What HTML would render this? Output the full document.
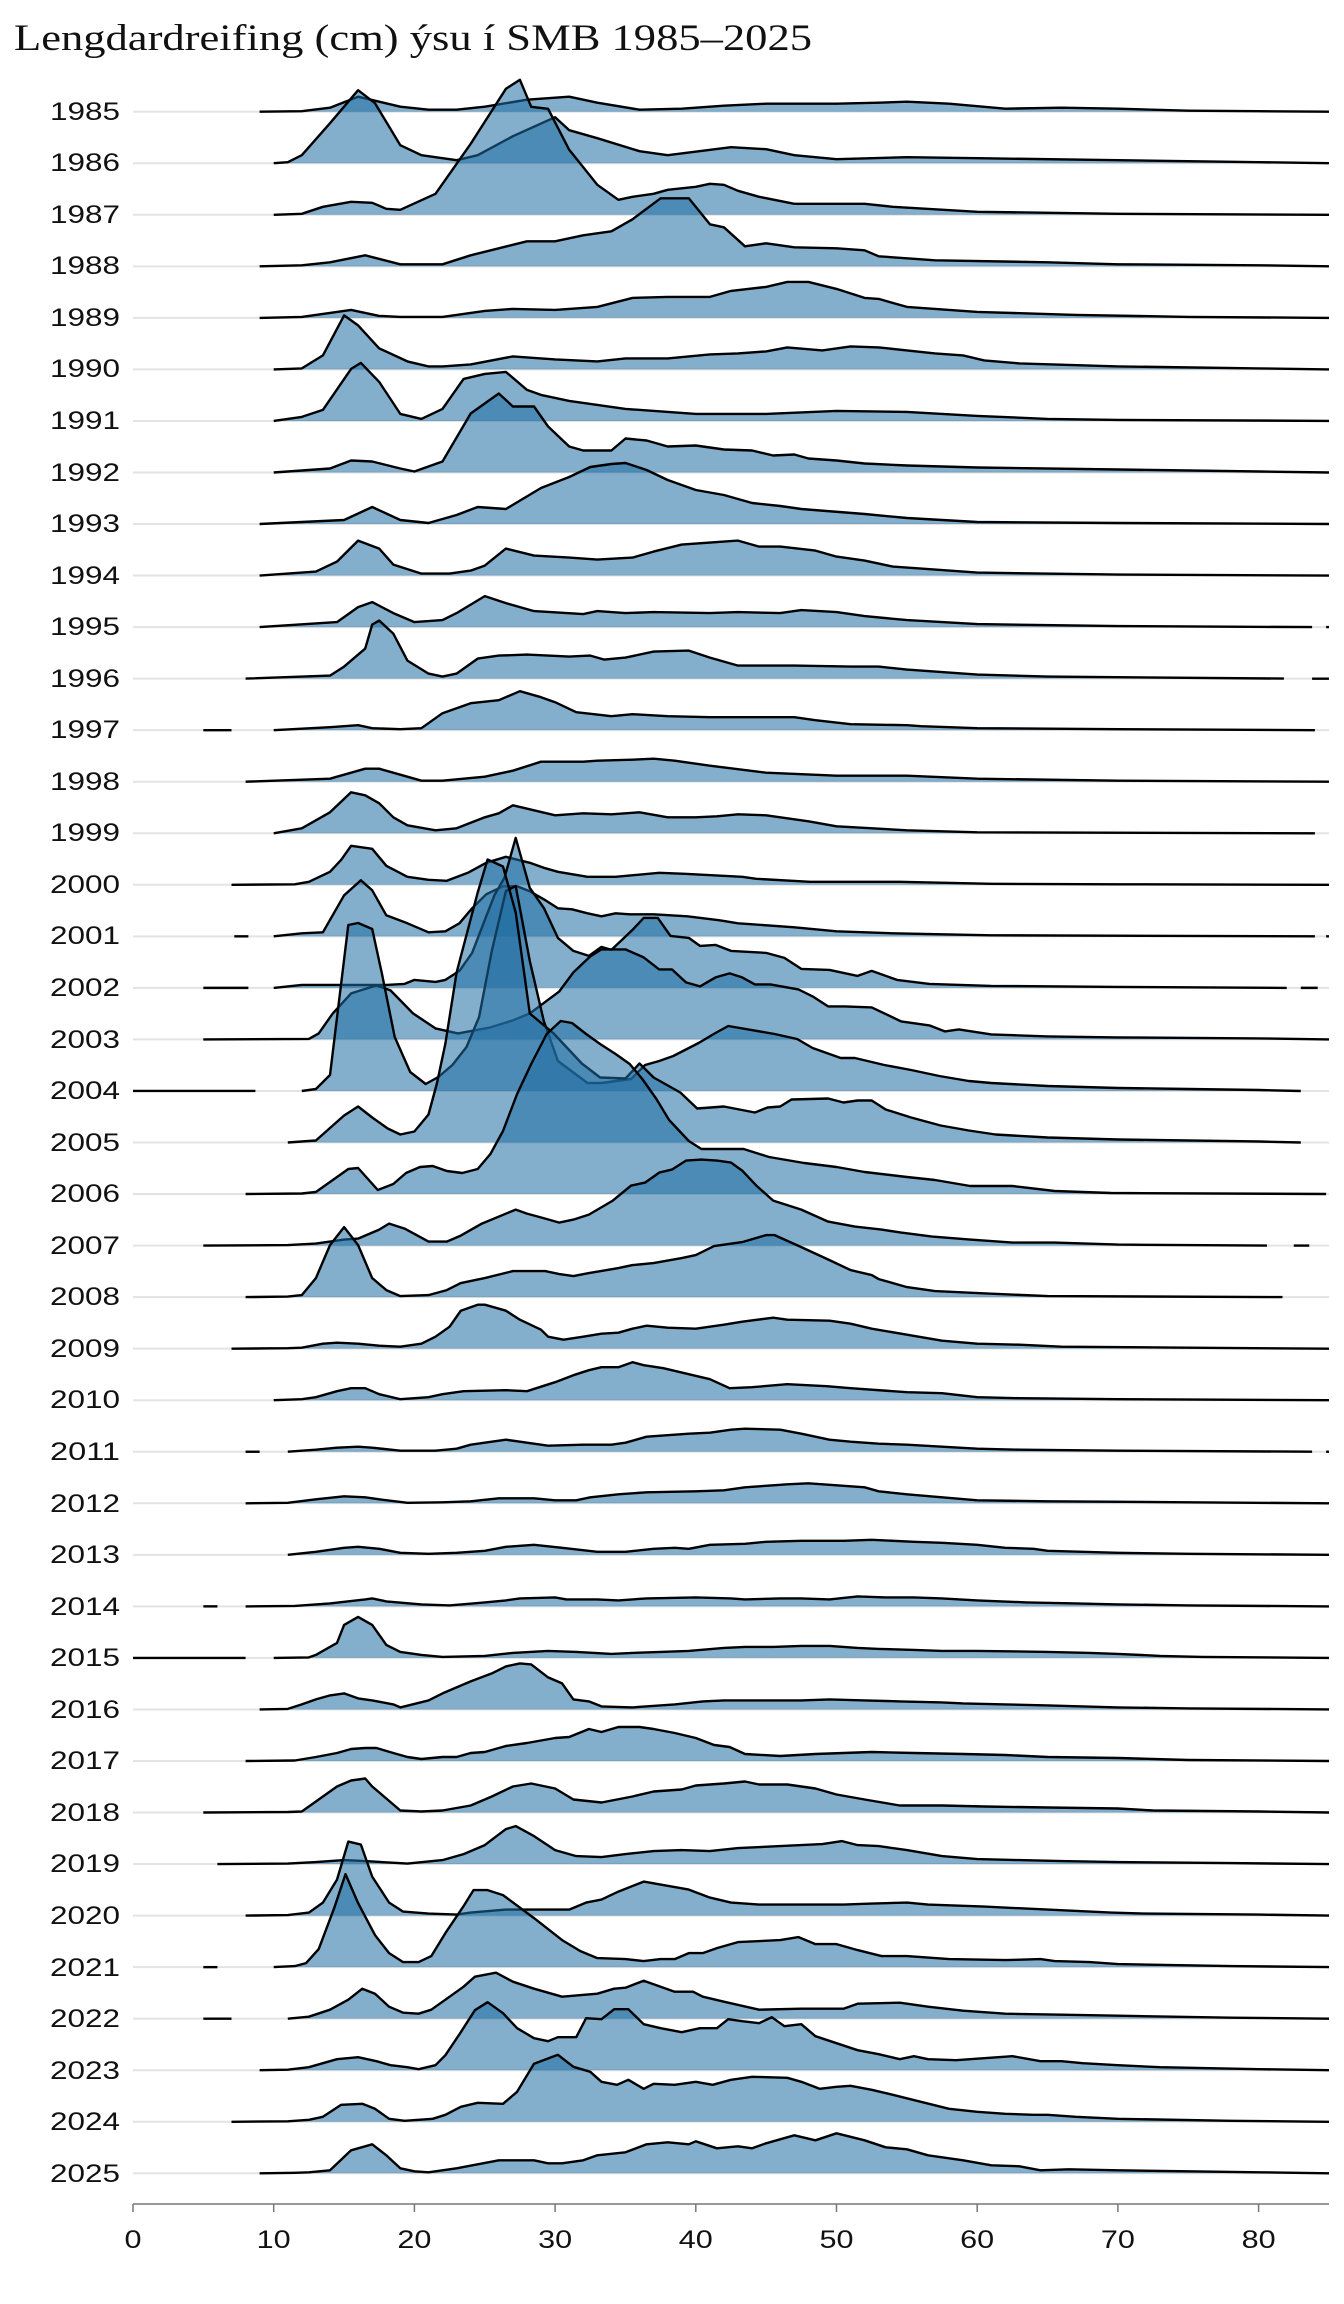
<!DOCTYPE html>
<html><head><meta charset="utf-8"><style>
html,body{margin:0;padding:0;background:#fff;}
svg{display:block;}
.sans{font-family:"Liberation Sans",Arial,sans-serif;}
.serif{font-family:"Liberation Serif",serif;}
</style></head><body>
<svg id="c" width="1344" height="2304" viewBox="0 0 1344 2304" xmlns="http://www.w3.org/2000/svg">
<rect width="1344" height="2304" fill="#fff"/>
<text class="serif" x="14" y="50" style="font-family:'Liberation Serif',serif;font-size:37px" textLength="798" lengthAdjust="spacingAndGlyphs" fill="#111">Lengdardreifing (cm) ýsu í SMB 1985–2025</text>
<g id="grid"></g>
<g id="labels" class="sans" style="font-family:'Liberation Sans',Arial,sans-serif;font-size:25px" fill="#111" text-anchor="end">
<text x="120" y="120" textLength="70" lengthAdjust="spacingAndGlyphs">1985</text>
<text x="120" y="171" textLength="70" lengthAdjust="spacingAndGlyphs">1986</text>
<text x="120" y="223" textLength="70" lengthAdjust="spacingAndGlyphs">1987</text>
<text x="120" y="274" textLength="70" lengthAdjust="spacingAndGlyphs">1988</text>
<text x="120" y="326" textLength="70" lengthAdjust="spacingAndGlyphs">1989</text>
<text x="120" y="377" textLength="70" lengthAdjust="spacingAndGlyphs">1990</text>
<text x="120" y="429" textLength="70" lengthAdjust="spacingAndGlyphs">1991</text>
<text x="120" y="481" textLength="70" lengthAdjust="spacingAndGlyphs">1992</text>
<text x="120" y="532" textLength="70" lengthAdjust="spacingAndGlyphs">1993</text>
<text x="120" y="584" textLength="70" lengthAdjust="spacingAndGlyphs">1994</text>
<text x="120" y="635" textLength="70" lengthAdjust="spacingAndGlyphs">1995</text>
<text x="120" y="687" textLength="70" lengthAdjust="spacingAndGlyphs">1996</text>
<text x="120" y="738" textLength="70" lengthAdjust="spacingAndGlyphs">1997</text>
<text x="120" y="790" textLength="70" lengthAdjust="spacingAndGlyphs">1998</text>
<text x="120" y="841" textLength="70" lengthAdjust="spacingAndGlyphs">1999</text>
<text x="120" y="893" textLength="70" lengthAdjust="spacingAndGlyphs">2000</text>
<text x="120" y="944" textLength="70" lengthAdjust="spacingAndGlyphs">2001</text>
<text x="120" y="996" textLength="70" lengthAdjust="spacingAndGlyphs">2002</text>
<text x="120" y="1048" textLength="70" lengthAdjust="spacingAndGlyphs">2003</text>
<text x="120" y="1099" textLength="70" lengthAdjust="spacingAndGlyphs">2004</text>
<text x="120" y="1151" textLength="70" lengthAdjust="spacingAndGlyphs">2005</text>
<text x="120" y="1202" textLength="70" lengthAdjust="spacingAndGlyphs">2006</text>
<text x="120" y="1254" textLength="70" lengthAdjust="spacingAndGlyphs">2007</text>
<text x="120" y="1305" textLength="70" lengthAdjust="spacingAndGlyphs">2008</text>
<text x="120" y="1357" textLength="70" lengthAdjust="spacingAndGlyphs">2009</text>
<text x="120" y="1408" textLength="70" lengthAdjust="spacingAndGlyphs">2010</text>
<text x="120" y="1460" textLength="70" lengthAdjust="spacingAndGlyphs">2011</text>
<text x="120" y="1512" textLength="70" lengthAdjust="spacingAndGlyphs">2012</text>
<text x="120" y="1563" textLength="70" lengthAdjust="spacingAndGlyphs">2013</text>
<text x="120" y="1615" textLength="70" lengthAdjust="spacingAndGlyphs">2014</text>
<text x="120" y="1666" textLength="70" lengthAdjust="spacingAndGlyphs">2015</text>
<text x="120" y="1718" textLength="70" lengthAdjust="spacingAndGlyphs">2016</text>
<text x="120" y="1769" textLength="70" lengthAdjust="spacingAndGlyphs">2017</text>
<text x="120" y="1821" textLength="70" lengthAdjust="spacingAndGlyphs">2018</text>
<text x="120" y="1872" textLength="70" lengthAdjust="spacingAndGlyphs">2019</text>
<text x="120" y="1924" textLength="70" lengthAdjust="spacingAndGlyphs">2020</text>
<text x="120" y="1976" textLength="70" lengthAdjust="spacingAndGlyphs">2021</text>
<text x="120" y="2027" textLength="70" lengthAdjust="spacingAndGlyphs">2022</text>
<text x="120" y="2079" textLength="70" lengthAdjust="spacingAndGlyphs">2023</text>
<text x="120" y="2130" textLength="70" lengthAdjust="spacingAndGlyphs">2024</text>
<text x="120" y="2182" textLength="70" lengthAdjust="spacingAndGlyphs">2025</text>
</g>
<g id="ridges"></g>
<g id="axis">
<line x1="133" y1="2204" x2="1329" y2="2204" stroke="#777" stroke-width="1.5"/>
</g>
<g class="sans" style="font-family:'Liberation Sans',Arial,sans-serif;font-size:25px" fill="#111" text-anchor="middle">
<text x="133" y="2248" textLength="17" lengthAdjust="spacingAndGlyphs">0</text>
<text x="273.7" y="2248" textLength="34" lengthAdjust="spacingAndGlyphs">10</text>
<text x="414.4" y="2248" textLength="34" lengthAdjust="spacingAndGlyphs">20</text>
<text x="555.1" y="2248" textLength="34" lengthAdjust="spacingAndGlyphs">30</text>
<text x="695.8" y="2248" textLength="34" lengthAdjust="spacingAndGlyphs">40</text>
<text x="836.5" y="2248" textLength="34" lengthAdjust="spacingAndGlyphs">50</text>
<text x="977.2" y="2248" textLength="34" lengthAdjust="spacingAndGlyphs">60</text>
<text x="1117.9" y="2248" textLength="34" lengthAdjust="spacingAndGlyphs">70</text>
<text x="1258.6" y="2248" textLength="34" lengthAdjust="spacingAndGlyphs">80</text>
</g>
</svg>
<script>
(function(){
var NS="http://www.w3.org/2000/svg";
function X(cm){return 133+14.07*cm;}
function B(i){return 111.7+51.54*i;}
var D=[
[9,85,"12,0.5 14,4 16,15 19,5 21,2 23,2 25,5 28,12 31,15 33,9 36,2 39,3 42,6 45,8 50,8 53,9 55,10 58,8 62,3 66,4 70,3 75,1 80,0.5",[]],
[10,85,"11,1 12,8 14,40 16,73 17.2,60 19,18 20.5,8 23,3 24.5,8 27,27 30,46 31,33 33,25 36,12 38,8 42.5,16 45,14 47,8 50,4 55,6 60,5 70,3 80,1",[]],
[10,85,"12,1 13.5,8 15.5,13 17,12 18,6 19,5 21.5,21 24,71 26.5,126 27.5,135 28.3,108 29.5,106 31,65 33,30 34.5,15 35.5,18 37,21 38,25 40,28 41,31 42,30 43,24 44.5,18 47,11 52,11 54,8 60,3 70,1",[]],
[9,85,"12,1 14,4 16.5,11 19,2 22,2 24,11 26,18 28,25 30,25 32,31 34,35 35.5,47 37.5,68 39.5,68 41,42 42,39 43.5,20 45,23 47,19 50,18 52,16 53,10 57,6 65,4 70,2 80,1",[]],
[9,85,"12,1 15.5,8 17.5,2 19,1 22,1 25,7 27,9 30,8 33,11 35.5,20 38,21 41,21 42.5,27 45,31 46.5,36 48,36 50,29 52,20 53,19 55,11 60,6 67,3 75,1",[]],
[10,85,"12,1 13.5,14 15,54 16,44 17.5,21 19.5,8 21,3 22,3 24,5 27,13 30,10 33,8 35,11 38,11 41,15 43,16 45,18 46.5,22 49,19 51,23 53,22 55,19 57,16 59,14 60.5,9 63,6 70,3 80,1",[]],
[10,85,"12,4 13.5,11 15.5,52 16.2,58 17.5,39 19,7 20.5,2 22,12 23.5,42 25,47 26.5,49 28,31 29,26 31,20 35,12 40,7 45,7 50,10 55,9 60,5 65,2 70,1",[]],
[10,85,"14,4 15.5,12 17,11 19,4 20,1 22,11 24,59 26,79 27,66 28.5,66 29.5,46 31,26 32,22 34,22 35,34 36.5,32 38,26 40,27 42,23 44,22 45.5,17 47,18 48,14 50,12 52,9 55,7 60,5 70,3 80,1",[]],
[9,85,"15,4 17,17 19,4 21,1 23,9 24.5,17 26.5,15 29,36 31,47 32.5,57 34,60 35,61 36.5,54 38,44 40,34 42,29 44,21 46,18 47.5,15 52,10 55,6 60,2 70,1",[]],
[9,85,"13,4 14.5,14 16,35 17.5,27 18.5,11 20.5,2 22.5,2 24,5 25,10 26.5,27 28.5,20 31,18 33,16 35.5,18 37,24 39,31 41,33 43,35 44.5,29 46,29 48.5,25 50,19 52,15 54,9 57,6 60,3 70,1",[]],
[9,83.8,"14.5,5 16,20 17,25 18.5,14 20,5 22,7 23,14 25,31 26.5,24 28.5,16 32,13 33,16 35,14 37,15 41,14 43,15 46,14 47.5,17 50,15 52,11 55,7 60,3 70,1",[[84.8,85]]],
[8,81.8,"14,3 15,12 16.5,30 17,54 17.5,58 18.5,45 19.5,18 21,5 22,2 23,5 24.5,20 26,23 28,24 31,22 32.5,23 33.5,19 35,21 37,27 39.5,28 41,21 43,13 47,13 51,12 53,12 55,9 57,7 60,4 65,2",[[83.8,85]]],
[10,84,"14,3 16,5 17,2 19,1 20.5,2 22,17 24,27 26,30 27.5,39 29,33 30,28 31.5,18 34,14 35.5,16 38,14 41,13 44,13 47,13 48.5,10 51,6 55,5 56,4 60,2 70,1",[[5,7]]],
[8,85,"14,3 16.5,13 17.5,13 19,7 20.5,1 22,1 25,5 27,11 29,20 32,20 33,21 35.5,22 37,23 38.5,21 41,16 45,9 50,6 55,6 60,3 70,1",[]],
[10,84,"12,5 14,21 15.5,41 16.5,38 17.5,30 18.5,16 19.5,8 21.5,3 23,5 25,16 26,20 27,28 28.5,23 30,18 32,20 34,19 36,21 38,16 40,16 41.5,17 43,19 45,18 48,12 50,7 55,3 60,1",[]],
[7,85,"11.5,0.5 12.5,3 14,13 14.8,25 15.5,39 17,36 18,19 19.5,8 21,5 22.3,4 23.8,12 25.1,22 26.5,28 28.2,22 29.2,17 30.2,13 32.3,8 34.3,8 37.4,12 39.2,11 43.3,8 44.3,6 48.1,3 54.5,3 61,1 70,0.5",[]],
[10,84,"12,3 13.5,4 15,41 16.2,56 17,46 18,21 19.5,13 21,4 22.2,5 23.2,13 24.1,28 25.1,42 26.3,50 27.3,50 28.2,45 29.2,37 30.2,28 31.2,27 32.3,23 33.3,20 34.3,23 35.3,22 37,22 39.4,20 41.7,16 43,13 47,9 50,5 54,3 61,1",[[7.2,8.2],[84.8,85]]],
[10,82,"12,3 18,3 19.3,4 20,8 21.5,6 22.2,8 23.2,17 24.1,35 25,68 25.7,93 26.4,110 27.2,150 28.2,100 29.2,80 30.2,50 31.3,37 32.4,32 33.3,41 34,38 35.5,58 36.3,70 37.3,70 38.2,52 39.5,50 40.3,42 41.4,43 42.5,37 45,35 46.3,30 47.5,19 49.5,18 51.5,12 52.5,17 54.3,8 56.6,4 61,2 70,1",[[5,8.2],[83,84.2]]],
[5,85,"12.5,0.5 13.2,6 14.2,26 15.5,46 17.3,54 18.3,49 19.9,26 21.5,11 23.1,6 25.4,12 27,19 28.2,26 30.3,48 31.3,67 32.5,83 33.3,90 35,90 36.3,82 37.4,70 38.3,70 39.3,57 40.3,53 41.4,62 42.4,66 43.3,62 44.2,55 45.3,55 47.3,50 48.3,43 49.4,33 50.6,33 52.5,32 54.6,18 56.6,14 57.7,8 58.7,10 61,5 65,3 70,2 80,1",[]],
[12,83,"13,2 14,16 15.3,166 16,168 17,162 17.7,117 18.6,54 19.7,19 20.8,7 21.7,14 22.7,26 23.7,44 24.6,74 25.5,140 26.5,200 27.2,205 28.2,130 29.2,70 30.2,30 32.3,8 33.3,8 35.4,12 36.4,26 37.4,30 38.4,35 40.2,48 41.4,58 42.3,65 45.6,57 47.2,52 48.3,43 50.3,33 51.3,33 53.4,26 55.3,21 57.3,15 59.4,10 61,8 65,5 70,3 75,2 80,1",[[0,8.7]]],
[11,83,"13,2 15,27 16,36 17,25 18.1,14 19,8 20,11 21,28 21.6,59 22.2,99 23,170 24.5,250 25.2,283 26.3,276 27.2,230 28.2,129 29.9,109 31.9,79 33.2,65 35,64 36,79 37,65 38.9,50 40.1,34 42,36 44.2,30 45.1,35 46,36 46.8,43 49.4,44 50.5,40 51.5,42 52.5,42 53.5,33 55.3,25 57.4,17 59.4,12 61.3,8 65,5 70,3 80,1",[]],
[8,84.8,"12,0.5 13,2 15.3,25 16,26 17.4,4 18.5,10 19.4,21 20.4,27 21.3,28 22.3,23 23.4,21 24.5,25 25.4,40 26.3,63 27.3,100 28.3,130 29.4,160 30.4,173 31.2,171 32.2,160 33.2,150 34.3,140 35.3,130 36.2,115 37.2,95 38.1,74 39.5,53 40.4,45 41.5,45 43.4,45 45.2,37 47.7,31 50,27 52,22 55,17 57,14 59.5,8 62.5,8 65.5,3 69.5,1",[]],
[5,80.6,"11,0.5 13,2 15,6 16,7 17.5,16 18.2,22 19.3,17 21,4 22.3,4 23.3,10 24.8,22 27.2,36 28,32 29.3,27 30.3,23 31.3,26 32.4,31 34.1,45 35.4,60 36.4,63 37.4,73 38.3,76 39.3,85 40.4,86 41.5,85 42.5,83 43.3,75 44.3,60 45.5,45 47.5,36 49.4,24 51.3,19 53.2,16 54.6,13 56.8,9 59.5,6 62.5,3 65.5,3 70,1",[[82.5,83.6]]],
[8,81.7,"11,0.5 12,2 13,19 14,52 15,70 16,52 17,19 18,7 19,1 21,2 22.3,7 23.3,14 25,19 27,26 29.3,26 30.3,23 31.3,21 32.4,24 34.5,29 35.5,32 37,34 39,39 40,42 41.3,51 43.3,55 45,62 45.6,62 47.5,50 49.5,37 51,27 52.5,22 53,18 55,10 57,6 60,4 65,1",[]],
[7,85,"11,0.5 12,1 13.5,5 14.5,6 16,5 17.5,3 19,2 20.5,5 21.5,12 22.5,22 23.3,38 24.5,44 25,44 26.5,38 27.5,29 29,19 29.5,12 30.6,9 32,12 33.3,15 34.5,16 35.5,20 36.5,23 38,21 40,20 42,24 43.3,27 45.5,31 46.5,29 49.5,28 51,25 52.5,20 55,14 57.5,8 60,5 63,4 66,2 75,1",[]],
[10,85,"12,1 13,3 14.5,9 15.5,12 16.5,12 17.5,6 19,1 21,3 22,6 23.5,9 26.5,10 28,9 30,18 31.3,25 32.4,30 33.3,33 34.5,33 35.5,38 36.3,35 37.7,32 39.2,27 41,21 42.4,12 44,13 46.5,16 49.3,14 51,12 55,8 57.5,7 60,3 63,2 70,1",[]],
[11,83.8,"13,2 14.5,4 16,5 17,4 19,1 21.5,1 23,3 24,7 25.5,10 26.5,12 28.5,8 29.5,6 32,7 34,7 35,9 36.5,15 39.5,18 41,19 42.5,22 43.5,23 46,22 47.5,18 49.5,12 51,10 53,8 55,7 57.5,5 60,3 63,2 70,1",[[8,9],[84.8,85]]],
[8,85,"11,0.5 13,4 15,7 16.5,6 17.5,4 19.5,0.5 22,1 24,2 26,5 28.5,5 30,3 31.5,3 32.5,6 34.5,9 36.5,11 40,12 42,13 43.5,16 45.5,18 46.5,19 48,20 50,18 52,16 53,12 55,9 57.5,6 60,3 65,2 75,1",[]],
[11,85,"13,3 15,7 16,8 17.5,6 19,2 21,1 23,2 25,4 26.5,8 28.5,10 30.5,7 33,3 35,3 37,6 38.5,7 39.5,6 41,10 43.5,11 45,13 47.5,14 50.5,14 52.5,15 55.5,13 57.5,12 60,10 62,7 64,6 65,4 70,2 75,1",[]],
[8,85,"11.5,0.5 14,3 16.5,7 17,8 18,5 20.5,2 22.5,1 25,4 26.5,6 27.5,8 30,9 30.8,7 33,7 34.5,6 36.5,8 40,9 42.5,8 43.5,7 46,8 47.5,8 49.5,7 51.5,10 53.5,9 55.5,9 57.5,8 60,6 63.5,4 67,3 70,2 75,1",[[5,6]]],
[10,85,"12.5,0.5 13,3 14.5,15 15,33 16,41 17,33 18,13 19,6 20.5,3 22,1 25,2 27,5 29.5,7 31.5,6 34,4 35.5,5 37.5,6 39.5,7 42,10 43.5,11 45.5,11 47.5,12 49.5,12 51.5,10 53,9 55.5,8 57.5,7 60,7 65,6 68,5 70,4 73,2 76,1",[[0,8]]],
[9,85,"11,0.5 12,5 13,10 14,14 15,16 16,11 17,9 18.5,5 19,2 21,9 22,16 24,28 25.5,36 26.5,43 27.5,46 28.3,45 29.5,32 30.5,26 31.3,10 32.4,8 33.3,3 35.5,2 38.5,5 40.5,8 42,9 47.5,9 49.5,10 52,9 54.5,8 57.5,7 59,6 62,5 65,4 70,2 75,1",[]],
[8,85,"11.5,0.5 13,4 14.5,8 15.5,12 16.5,13 17.3,13 18.5,8 19.5,4 20.5,2 22,4 23,4 24,8 25,9 26.5,15 28,18 30,23 31,24 32.4,32 33.3,29 34.5,34 36,34 37,32 38.5,28 40,23 41.3,16 42.4,14 43.5,7 46,5 48.5,7 50.5,8 52.5,9 55.5,8 59,7 62,6 65,4 70,3 75,1",[]],
[5,85,"11,0.5 12,1 13,11 14.5,26 15.5,32 16.5,34 17,26 18,14 19,2 20.5,1 22,2 24,7 25.5,16 27,26 28.3,29 30,24 31.3,13 33.3,10 35.5,16 37,21 39,23 40,27 42,29 43.5,31 44.5,28 46.5,28 48.5,24 50,18 52,13 54.5,7 57.5,7 60.5,6 65,5 70,4 72.5,2 80,1",[]],
[6,85,"11,0.5 13,2 15,4 16.5,3 19.5,0.5 22,4 23.5,10 25,19 26.5,35 27.2,38 28.5,28 30,14 31.5,8 33.3,7 35,10 37,13 39,14 41,13 43,16 46,18 49,20 50.4,23 51.5,19 53,18 55,14 57.5,8 60,5 63,4 66,3 70,2 78,1",[]],
[8,85,"11,0.5 12.5,3 13.5,13 14.5,36 15.3,74 16.2,71 17,39 18.2,13 19.2,4 21,2 23,1 24,3 26.5,6 29,6 31,6 32.2,13 33.3,16 34.5,24 36.3,34 37.5,31 39.5,26 41,18 42.5,13 44.5,11 50.5,11 52.5,12 55,13 56.5,11 58.5,10 60.5,9 63.5,7 66.5,5 69.5,3 72,2 80,1",[]],
[10,85,"11.5,1 12.3,4 13.2,18 14.3,59 15.1,93 16,64 17.2,32 18.2,14 19.2,5 20.3,5 21.2,11 22.2,34 23.5,61 24.2,77 25.2,77 26.3,72 28.5,49 30.5,27 31.8,16 33,9 35,8 36.3,6 37.5,8 38.5,8 39.5,14 40.5,14 41.5,19 43,25 46,27 47.3,30 48.5,23 50,23 51.5,17 53.2,11 55,11 58,8 62,7 64.5,8 65.5,6 68,5 70,3 78,1",[[5,6]]],
[11,85,"12.5,2 14,9 15.3,19 16.3,30 17.2,25 18.2,12 19.2,6 20.3,5 21.2,9 22.2,19 23.5,32 24.3,42 25.8,46 27,37 28.5,30 30.5,22 33,25 34.2,30 35,31 36.3,38 37.5,32 38.5,27 39.8,27 40.5,22 42,17 44.5,9 47.5,10 50.5,10 51.5,15 54.5,16 56.5,12 59,8 62,5 66,4 70,3 78,1",[[5,7]]],
[9,85,"11,0.5 12.5,3 13.5,7 14.5,11 16,13 17.3,9 18.3,5 19.5,3 20.3,1 21.5,5 22.2,15 23.3,38 24.3,60 25.2,68 26.3,57 27.3,42 28.5,32 29.5,29 30.2,33 31.5,33 32.2,52 33.3,51 34.2,61 35.2,61 36.3,46 37.5,42 39,38 40.3,42 41.5,42 42.3,51 43.3,49 44.5,47 45.4,53 46.3,44 47.5,46 48.5,34 50,27 51.5,20 53,16 54.5,11 55.5,14 56.5,11 58.5,10 60.5,12 62.5,14 64.5,9 66,9 67.5,7 70,5 73,3 80,1",[]],
[7,85,"11,0.5 12.5,2 13.5,5 14.8,17 16.3,18 17.2,13 18.2,3 19.3,1 20.3,2 21.3,3 22.2,7 23.3,15 24.5,19 26.3,18 27.3,30 28.5,58 30.2,67 31.3,55 32.5,50 33.3,40 34.4,37 35.2,42 36.3,33 37,38 38.5,37 40,40 41.2,37 42.5,42 44,45 46.5,44 47.5,40 48.8,33 50,35 51,36 52.5,32 54,27 56,20 58,13 60,10 62,8 64,7 65,7 67,5 70,3 78,1",[]],
[9,85,"11.5,0.5 12.5,1 14,3 15.5,23 17,29 18,18 19,5 20,2 21,1 22,3 23,5 24.5,9 26,13 27,13 28.5,13 29.5,10 30.5,10 32,13 33,18 35,21 36.5,29 38,31 39.5,29 40,32 41.5,25 43,27 44,25 45,30 47,38 48.5,33 50,40 52,33 53.5,26 55,24 56.5,18 59,13 61,8 63,7 64.5,3 66.5,4 70,3 75,2 80,1",[]]
];
var grid=document.getElementById('grid');
var rid=document.getElementById('ridges');
for(var i=0;i<D.length;i++){
  var b=B(i);
  var gl=document.createElementNS(NS,'line');
  gl.setAttribute('x1',133);gl.setAttribute('x2',1329);
  gl.setAttribute('y1',b);gl.setAttribute('y2',b);
  gl.setAttribute('stroke','#e3e3e3');gl.setAttribute('stroke-width','2');
  grid.appendChild(gl);
}
for(var i=0;i<D.length;i++){
  var d=D[i],b=B(i),s=d[0],e=d[1];
  var pts=[[s,0]];
  d[2].split(' ').forEach(function(p){var q=p.split(',');var c=+q[0],h=+q[1];if(c>s&&c<e)pts.push([c,h]);});
  pts.push([e,0]);
  var str=pts.map(function(p){return X(p[0]).toFixed(1)+','+(b-p[1]).toFixed(1);}).join(' ');
  var poly=document.createElementNS(NS,'polygon');
  poly.setAttribute('points',str+' '+X(e).toFixed(1)+','+b+' '+X(s).toFixed(1)+','+b);
  poly.setAttribute('fill','rgba(31,110,163,0.55)');
  rid.appendChild(poly);
  var pl=document.createElementNS(NS,'polyline');
  pl.setAttribute('points',str);
  pl.setAttribute('fill','none');pl.setAttribute('stroke','#000');
  pl.setAttribute('stroke-width','2.4');pl.setAttribute('stroke-linejoin','round');
  rid.appendChild(pl);
  d[3].forEach(function(seg){
    var l=document.createElementNS(NS,'line');
    l.setAttribute('x1',X(seg[0]));l.setAttribute('x2',X(seg[1]));
    l.setAttribute('y1',b);l.setAttribute('y2',b);
    l.setAttribute('stroke','#000');l.setAttribute('stroke-width','2.4');
    rid.appendChild(l);
  });
}
var ax=document.getElementById('axis');
for(var t=0;t<=80;t+=10){
  var l=document.createElementNS(NS,'line');
  l.setAttribute('x1',X(t));l.setAttribute('x2',X(t));
  l.setAttribute('y1',2204);l.setAttribute('y2',2212);
  l.setAttribute('stroke','#777');l.setAttribute('stroke-width','1.5');
  ax.appendChild(l);
}
})();
</script>
</body></html>
